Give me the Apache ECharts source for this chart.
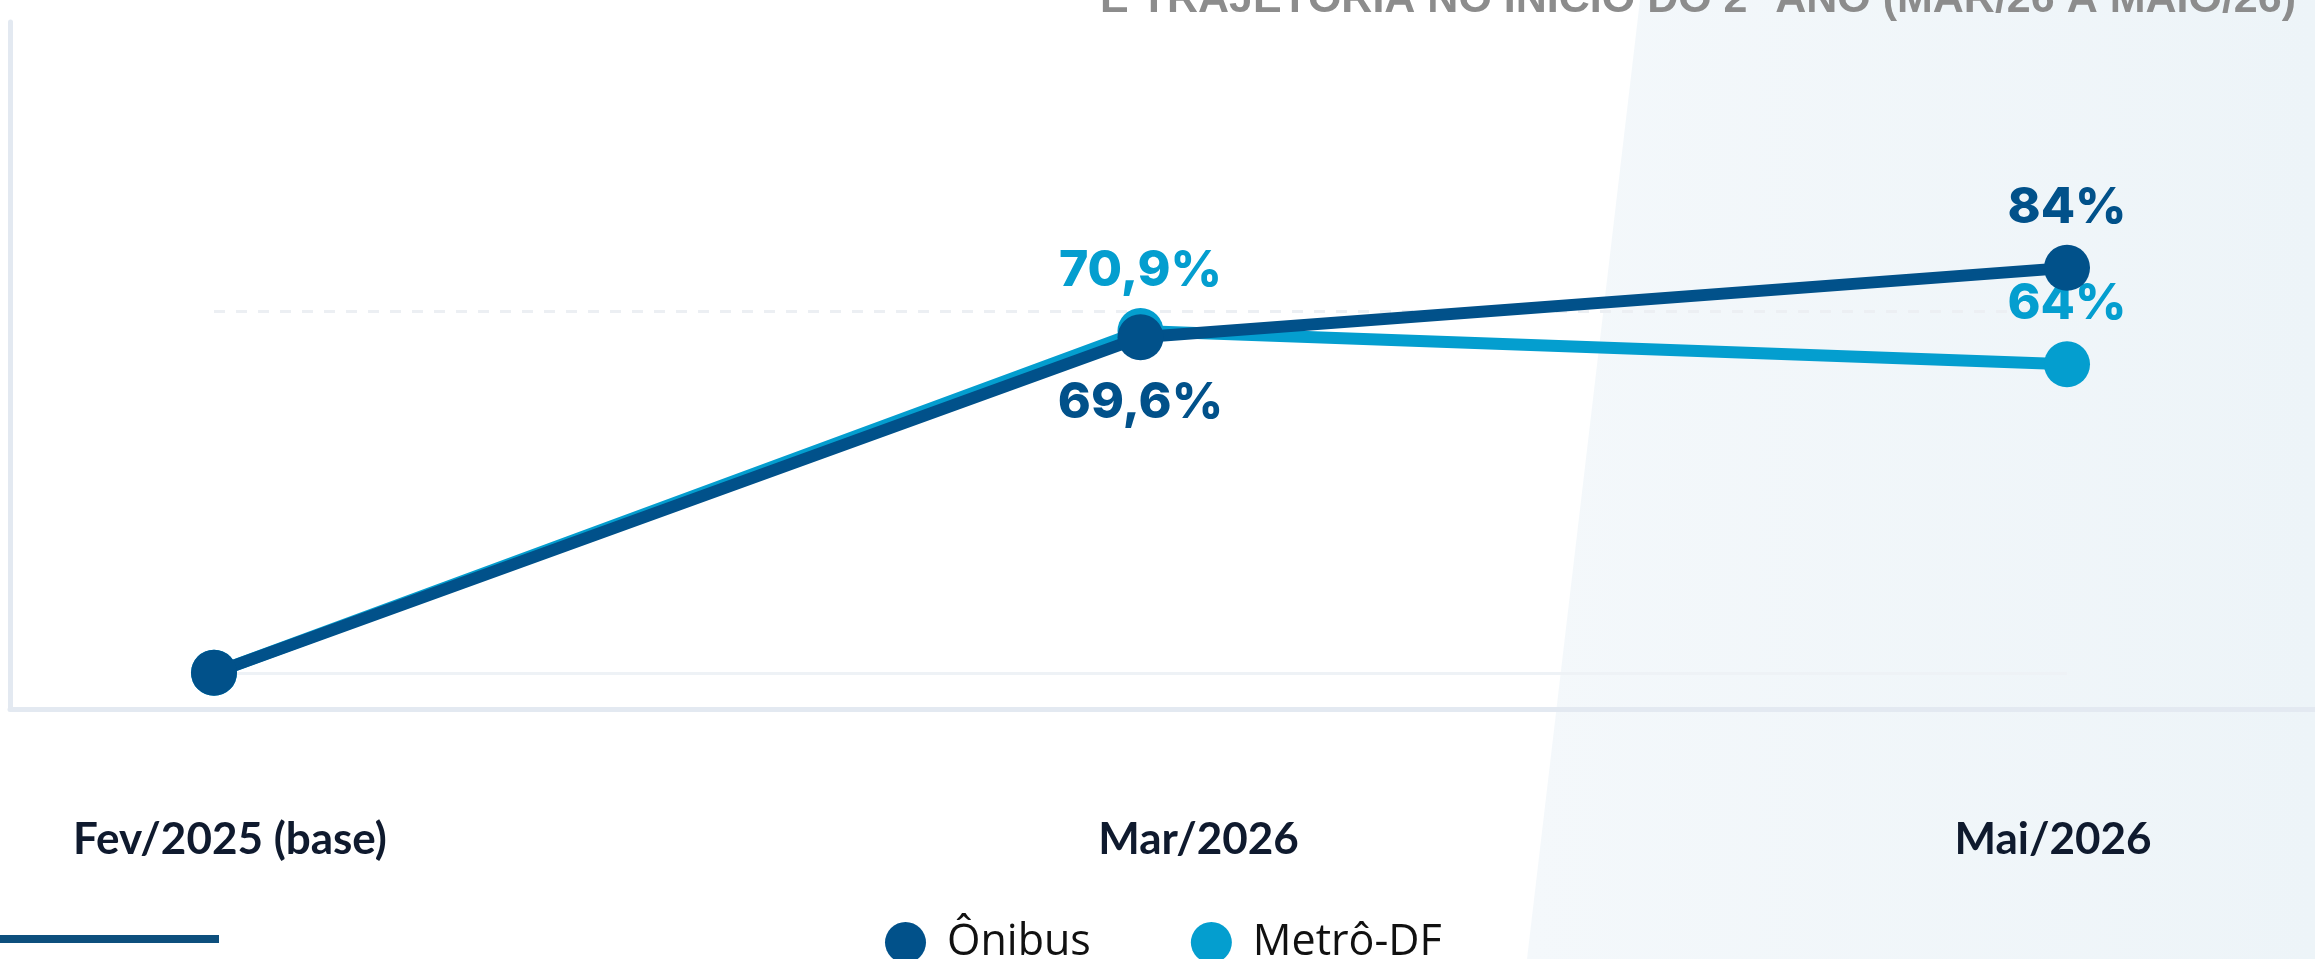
<!DOCTYPE html>
<html>
<head>
<meta charset="utf-8">
<title>Ônibus x Metrô-DF</title>
<script src="https://cdn.jsdelivr.net/npm/echarts@6/dist/echarts.min.js"></script>
<style>
  html, body { margin: 0; padding: 0; background: #fff; }
  #chart { width: 2315px; height: 959px; }
</style>
</head>
<body>
<div id="chart"></div>
<script>
// dados
const categories = ['Fev/2025 (base)', 'Mar/2026', 'Mai/2026'];
const onibus = [0, 69.6, 84];
const metro = [0, 70.9, 64];
const seriesNames = ['Ônibus', 'Metrô-DF'];
const titleText = 'E TRAJETÓRIA NO INÍCIO DO 2º ANO (MAR/26 A MAIO/26)';
const refLines = [0, 75];

// posição dos rótulos (null = sem rótulo)
const onibusLabelPos = [null, 'bottom', 'top'];
const metroLabelPos = [null, 'top', 'top'];

const colors = { onibus: '#01518a', metro: '#049ecf' };

const fmtPct = v => String(v).replace('.', ',') + '%';

function buildData (values, positions, color) {
  return values.map((v, i) => ({
    value: v,
    label: positions[i] ? {
      show: true,
      position: positions[i],
      distance: positions[i] === 'bottom' ? 18 : 12,
      formatter: p => fmtPct(p.value),
      color: color,
      fontFamily: 'Inter',
      fontWeight: 800,
      fontSize: 50
    } : { show: false }
  }))
}

// pequenos deslocamentos dos rótulos do eixo x (px)
const labelShift = [16, 58, -14];
const richLabels = {};
labelShift.forEach((s, i) => {
  richLabels['c' + i] = {
    fontFamily: 'Lato',
    fontWeight: 'bold',
    fontSize: 44,
    lineHeight: 44,
    color: '#0f1a2e',
    padding: s >= 0 ? [0, 0, 0, 2 * s] : [0, -2 * s, 0, 0]
  };
});

const chart = echarts.init(document.getElementById('chart'));

const option = {
  animation: false,
  backgroundColor: '#ffffff',
  graphic: [
    {
      type: 'polygon',
      z: -10,
      silent: true,
      shape: { points: [[1640, 0], [2315, 0], [2315, 959], [1527, 959]] },
      style: {
        fill: new echarts.graphic.LinearGradient(0, 0, 1, 0, [
          { offset: 0, color: '#f4f8fb' },
          { offset: 1, color: '#edf4f8' }
        ])
      }
    },
    {
      type: 'rect',
      silent: true,
      shape: { x: 0, y: 935, width: 219, height: 8 },
      style: { fill: '#0d4f7d' }
    }
  ],
  title: {
    text: titleText,
    right: 14,
    top: -26,
    textStyle: {
      fontFamily: 'Liberation Sans',
      fontWeight: 'bold',
      fontSize: 43,
      lineHeight: 43,
      color: '#8c8c8c'
    }
  },
  legend: {
    data: seriesNames,
    left: 880,
    top: 916,
    icon: 'circle',
    itemWidth: 41,
    itemHeight: 41,
    itemGap: 100,
    textStyle: {
      fontFamily: 'Open Sans',
      fontWeight: 500,
      fontSize: 43,
      color: '#111111',
      padding: [0, 0, 0, 16]
    }
  },
  grid: [
    { left: 214, right: 248, top: 22, bottom: 250 },
    { left: 10, right: 0, top: 22, bottom: 250 }
  ],
  xAxis: [
    {
      type: 'category',
      gridIndex: 0,
      data: categories,
      boundaryGap: false,
      axisLine: { show: false },
      axisTick: { show: false },
      axisLabel: {
        margin: 109,
        interval: 0,
        formatter: (v, i) => '{c' + i + '|' + v + '}',
        rich: richLabels
      }
    },
    {
      type: 'value',
      gridIndex: 1,
      axisLine: { show: true, lineStyle: { color: '#e3e9f1', width: 5 } },
      axisTick: { show: false },
      axisLabel: { show: false },
      splitLine: { show: false }
    }
  ],
  yAxis: [
    {
      type: 'value',
      gridIndex: 0,
      min: -7.5,
      max: 135,
      axisLine: { show: false },
      axisTick: { show: false },
      axisLabel: { show: false },
      splitLine: { show: false }
    },
    {
      type: 'value',
      gridIndex: 1,
      axisLine: { show: true, lineStyle: { color: '#e3e9f1', width: 5 } },
      axisTick: { show: false },
      axisLabel: { show: false },
      splitLine: { show: false }
    }
  ],
  series: [
    {
      name: seriesNames[1],
      type: 'line',
      z: 2,
      xAxisIndex: 0,
      yAxisIndex: 0,
      data: buildData(metro, metroLabelPos, colors.metro),
      symbol: 'circle',
      symbolSize: 46,
      color: colors.metro,
      lineStyle: { width: 12, color: colors.metro },
      itemStyle: { color: colors.metro, borderWidth: 0 },
      markLine: {
        z: 1,
        silent: true,
        symbol: 'none',
        label: { show: false },
        data: [
          { yAxis: refLines[0], lineStyle: { color: '#eef2f6', width: 3, type: 'solid' } },
          { yAxis: refLines[1], lineStyle: { color: '#eceff3', width: 3, type: [11, 11] } }
        ]
      }
    },
    {
      name: seriesNames[0],
      type: 'line',
      z: 3,
      xAxisIndex: 0,
      yAxisIndex: 0,
      data: buildData(onibus, onibusLabelPos, colors.onibus),
      symbol: 'circle',
      symbolSize: 46,
      color: colors.onibus,
      lineStyle: { width: 12, color: colors.onibus },
      itemStyle: { color: colors.onibus, borderWidth: 0 }
    }
  ]
};

chart.setOption(option);
</script>
</body>
</html>
